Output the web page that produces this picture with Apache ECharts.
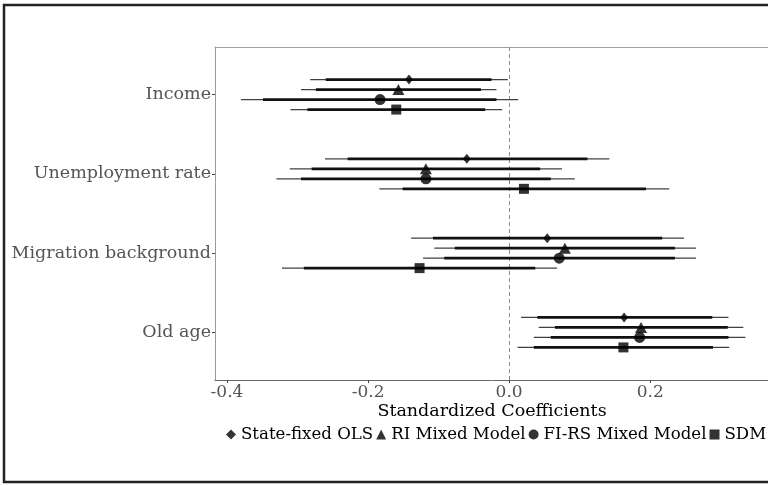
<!DOCTYPE html>
<html>
<head>
<meta charset="utf-8">
<script src="https://cdn.jsdelivr.net/npm/echarts@6/dist/echarts.min.js"></script>
<style>
html,body{margin:0;padding:0;background:#fff;}
#chart{width:768px;height:485px;}
</style>
</head>
<body>
<div id="chart"></div>
<script>
// ---- data ----
const categories = ['Income', 'Unemployment rate', 'Migration background', 'Old age'];
const models = ['State-fixed OLS', 'RI Mixed Model', 'FI-RS Mixed Model', 'SDM'];
const xTicks = [-0.4, -0.2, 0.0, 0.2];

const olsEst  = [-0.142, -0.060, 0.054, 0.163];
const olsLo95 = [-0.282, -0.261, -0.139, 0.017];
const olsHi95 = [-0.002, 0.142, 0.248, 0.311];
const olsLo90 = [-0.260, -0.229, -0.108, 0.040];
const olsHi90 = [-0.025, 0.111, 0.217, 0.288];

const riEst  = [-0.157, -0.118, 0.079, 0.187];
const riLo95 = [-0.295, -0.311, -0.106, 0.042];
const riHi95 = [-0.018, 0.075, 0.265, 0.332];
const riLo90 = [-0.274, -0.280, -0.077, 0.065];
const riHi90 = [-0.040, 0.044, 0.235, 0.310];

const fiEst  = [-0.183, -0.118, 0.071, 0.185];
const fiLo95 = [-0.380, -0.330, -0.122, 0.035];
const fiHi95 = [0.013, 0.093, 0.265, 0.335];
const fiLo90 = [-0.349, -0.295, -0.092, 0.059];
const fiHi90 = [-0.018, 0.059, 0.235, 0.311];

const sdmEst  = [-0.160, 0.021, -0.127, 0.162];
const sdmLo95 = [-0.310, -0.184, -0.322, 0.012];
const sdmHi95 = [-0.010, 0.227, 0.068, 0.312];
const sdmLo90 = [-0.286, -0.151, -0.291, 0.035];
const sdmHi90 = [-0.034, 0.194, 0.037, 0.289];

// ---- build ----
const FONT = 'DejaVu Serif';
const modelData = [
  {est: olsEst, lo95: olsLo95, hi95: olsHi95, lo90: olsLo90, hi90: olsHi90},
  {est: riEst, lo95: riLo95, hi95: riHi95, lo90: riLo90, hi90: riHi90},
  {est: fiEst, lo95: fiLo95, hi95: fiHi95, lo90: fiLo90, hi90: fiHi90},
  {est: sdmEst, lo95: sdmLo95, hi95: sdmHi95, lo90: sdmLo90, hi90: sdmHi90}
];
const dodge = [-0.189, -0.063, 0.063, 0.189];
const symbols = ['diamond', 'triangle', 'circle', 'rect'];
const symSizes = [[8, 10], [12, 11], 11, 10];

const series = [];
modelData.forEach((m, k) => {
  series.push({
    name: models[k] + ' CI',
    type: 'custom',
    z: 2,
    data: categories.map((c, i) => [m.lo95[i], m.hi95[i], m.lo90[i], m.hi90[i], i + 1 + dodge[k]]),
    renderItem: function (params, api) {
      const y = api.value(4);
      const a = api.coord([api.value(0), y]);
      const b = api.coord([api.value(1), y]);
      const c = api.coord([api.value(2), y]);
      const d = api.coord([api.value(3), y]);
      return {
        type: 'group',
        children: [
          {type: 'line', shape: {x1: a[0], y1: a[1], x2: b[0], y2: b[1]}, style: {stroke: '#404040', lineWidth: 1.3}},
          {type: 'line', shape: {x1: c[0], y1: c[1], x2: d[0], y2: d[1]}, style: {stroke: '#111', lineWidth: 2.8}}
        ]
      };
    },
    markLine: k === 0 ? {
      silent: true, symbol: 'none', label: {show: false}, z: 1,
      lineStyle: {type: [4, 3], color: '#8a8a8a', width: 1},
      data: [{xAxis: 0}]
    } : undefined
  });
  series.push({
    name: models[k],
    type: 'scatter',
    z: 5,
    symbol: symbols[k],
    symbolSize: symSizes[k],
    itemStyle: {color: '#000'},
    data: categories.map((c, i) => [m.est[i], i + 1 + dodge[k]])
  });
});

const chart = echarts.init(document.getElementById('chart'), null, {renderer: 'canvas'});
chart.setOption({
  animation: false,
  backgroundColor: '#fff',
  grid: {left: 215, top: 47, bottom: 105, right: 0, show: false},
  xAxis: [{
    type: 'value', min: -0.417, max: 0.367,
    axisLine: {show: true, onZero: false, lineStyle: {color: '#6a6a6a', width: 1}},
    axisTick: {show: true, length: 3, customValues: xTicks, lineStyle: {color: '#444'}},
    axisLabel: {customValues: xTicks, formatter: v => v.toFixed(1), color: '#555', fontFamily: FONT, fontSize: 17, margin: 4},
    splitLine: {show: false}
  }, {
    type: 'value', position: 'top', min: -0.417, max: 0.367,
    axisLine: {show: true, onZero: false, lineStyle: {color: '#a0a0a0', width: 1}},
    axisTick: {show: false}, axisLabel: {show: false}, splitLine: {show: false}
  }],
  yAxis: {
    type: 'value', inverse: true, min: 0.4, max: 4.6,
    axisLine: {show: true, onZero: false, lineStyle: {color: '#9a9a9a', width: 1}},
    axisTick: {show: true, length: 3, customValues: [1, 2, 3, 4], lineStyle: {color: '#444'}},
    axisLabel: {customValues: [1, 2, 3, 4], formatter: v => categories[Math.round(v) - 1], color: '#555', fontFamily: FONT, fontSize: 17.5, margin: 4, padding: [6, 0, 0, 0]},
    splitLine: {show: false}
  },
  legend: {
    data: models.map((m, k) => ({name: m, icon: symbols[k]})),
    left: 221, top: 421, width: 700, itemWidth: 10, itemHeight: 10, itemGap: 3,
    textStyle: {fontFamily: FONT, fontSize: 16.6, color: '#000'},
    itemStyle: {color: '#000'},
    selectedMode: false
  },
  graphic: [
    {type: 'rect', shape: {x: 4, y: 5, width: 900, height: 477}, style: {fill: 'none', stroke: '#222', lineWidth: 2.5}, silent: true},
    {type: 'text', x: 492, y: 411, style: {text: 'Standardized Coefficients', font: '17.5px "' + FONT + '"', fill: '#000', textAlign: 'center', textVerticalAlign: 'middle'}}
  ],
  series: series
});
</script>
</body>
</html>
